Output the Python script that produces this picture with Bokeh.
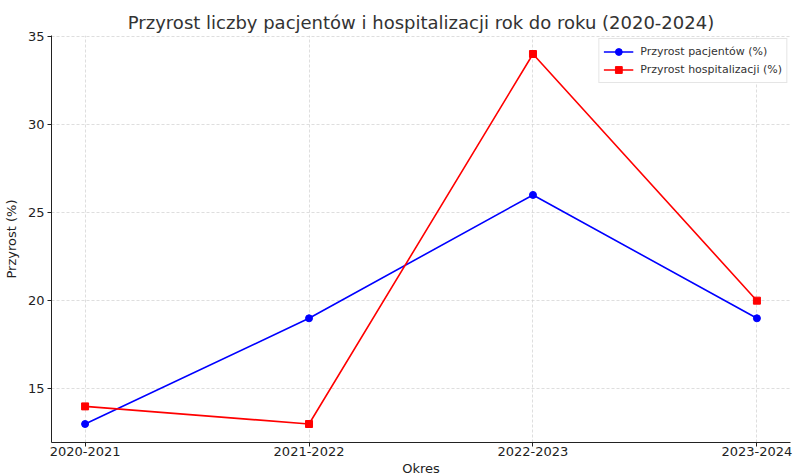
from bokeh.plotting import figure
from bokeh.models import FixedTicker, Range1d, Legend, Title
from bokeh.embed import file_html
from bokeh.resources import INLINE

periods = ["2020-2021", "2021-2022", "2022-2023", "2023-2024"]
patients = [13, 19, 26, 19]
hospital = [14, 13, 34, 20]
y_ticks = [15, 20, 25, 30, 35]

xs = list(range(len(periods)))

p = figure(width=793, height=475, output_backend="svg", toolbar_location=None,
           x_range=Range1d(-0.15, 3.15), y_range=Range1d(11.95, 35.05),
           min_border_left=42, min_border_top=35, min_border_right=3, min_border_bottom=0)
p.title.text = "Przyrost liczby pacjentów i hospitalizacji rok do roku (2020-2024)"
p.title.align = "center"
p.title.text_font = "DejaVu Sans"
p.title.text_font_size = "18px"
p.title.text_font_style = "normal"
p.title.text_color = "#333333"
p.title.standoff = 6
p.outline_line_color = None

l1 = p.line(xs, patients, line_color="#0000ff", line_width=1.6)
s1 = p.scatter(xs, patients, marker="circle", size=7, fill_color="#0000ff", line_color="#0000ff")
l2 = p.line(xs, hospital, line_color="#ff0000", line_width=1.6)
s2 = p.scatter(xs, hospital, marker="square", size=7, fill_color="#ff0000", line_color="#ff0000")

legend = Legend(items=[("Przyrost pacjentów (%)", [l1, s1]), ("Przyrost hospitalizacji (%)", [l2, s2])],
                location="top_right")
legend.label_text_font = "DejaVu Sans"
legend.label_text_font_size = "11px"
legend.label_text_color = "#333333"
legend.border_line_color = "#cccccc"
legend.border_line_width = 1
legend.spacing = 1
legend.padding = 4
legend.margin = 3
legend.glyph_width = 30
legend.glyph_height = 17
legend.label_height = 17
legend.label_standoff = 7
p.add_layout(legend)

p.xaxis.ticker = FixedTicker(ticks=xs)
p.xaxis.major_label_overrides = {i: s for i, s in enumerate(periods)}
p.yaxis.ticker = FixedTicker(ticks=y_ticks)
p.yaxis.axis_label = "Przyrost (%)"
for ax in (p.xaxis, p.yaxis):
    ax.major_label_text_font = "DejaVu Sans"
    ax.major_label_text_font_size = "13px"
    ax.major_label_text_color = "#222222"
    ax.axis_label_text_font = "DejaVu Sans"
    ax.axis_label_text_font_size = "13px"
    ax.axis_label_text_font_style = "normal"
    ax.axis_label_text_color = "#222222"
    ax.minor_tick_line_color = None
    ax.major_tick_out = 4
    ax.major_tick_in = 0
    ax.axis_line_color = "#222222"
    ax.major_tick_line_color = "#222222"
    ax.axis_label_standoff = 6
p.xaxis.major_label_standoff = 0
p.yaxis.major_label_standoff = 3

xtitle = Title(text="Okres", align="center", standoff=0, text_font="DejaVu Sans",
               text_font_size="13px", text_font_style="normal", text_color="#222222",
               text_line_height=1.0)
p.add_layout(xtitle, "below")

p.xgrid.grid_line_color = "#d0d0d0"
p.ygrid.grid_line_color = "#d0d0d0"
p.xgrid.grid_line_dash = "3 2"
p.ygrid.grid_line_dash = "3 2"
p.xgrid.grid_line_width = 0.7
p.ygrid.grid_line_width = 0.7

open("out.html", "w").write(file_html(p, INLINE))
